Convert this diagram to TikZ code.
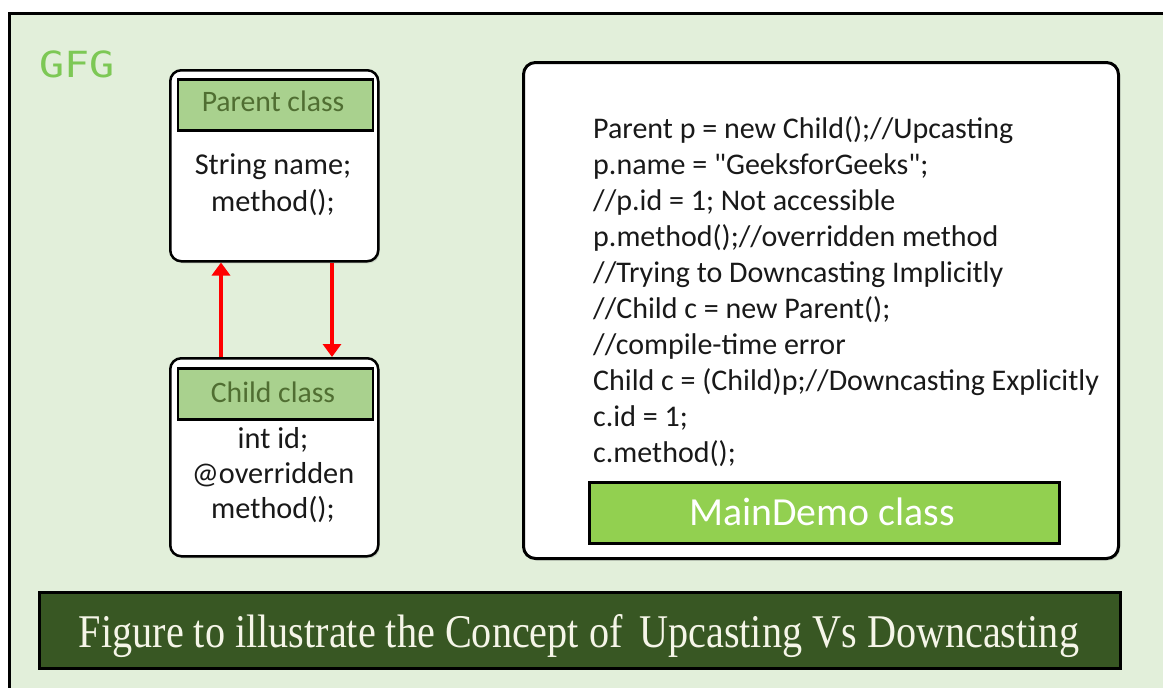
\documentclass[tikz,border=0pt]{standalone}
\usepackage{fontspec}
\setmainfont{Carlito}
\newfontfamily\codefont{Carlito}
\newfontfamily\gfgfont{DejaVu Sans Mono}
\newfontfamily\titlefont{Liberation Serif}
\usetikzlibrary{arrows.meta,shadows}
\definecolor{bgg}{RGB}{226,239,218}
\definecolor{headg}{RGB}{169,209,142}
\definecolor{headtxt}{RGB}{80,110,50}
\definecolor{demog}{RGB}{146,208,80}
\definecolor{barg}{RGB}{56,87,35}
\definecolor{gfgc}{RGB}{125,200,85}
\definecolor{txt}{RGB}{25,25,25}
\definecolor{cream}{RGB}{245,245,232}
\tikzset{
  softshadow/.style={drop shadow={opacity=0.25, shadow xshift=1.5pt, shadow yshift=-2pt}},
  classbox/.style={draw=black, line width=2.5pt, fill=white, rounded corners=11pt,
    minimum width=208pt, anchor=north west, inner sep=0pt, softshadow},
  classhead/.style={draw=black, line width=2.5pt, fill=headg, minimum width=195pt,
    minimum height=51pt, anchor=north west, inner sep=0pt},
  headtext/.style={text=headtxt, font=\fontsize{29.7}{29.7}\selectfont, anchor=base, inner sep=0pt},
  bodytext/.style={text=txt, font=\fontsize{30.3}{30.3}\selectfont, anchor=base, inner sep=0pt},
  codeline/.style={text=txt, font=\codefont\fontsize{30}{30}\selectfont, anchor=base west, inner sep=0pt},
  redarrow/.style={draw=red, line width=4pt, -{Triangle[width=18pt,length=13pt]}},
}
\begin{document}
\begin{tikzpicture}[x=1pt,y=-1pt]
\useasboundingbox (0,0) rectangle (1163,688);
\clip (0,0) rectangle (1163,688);
\fill[white] (0,0) rectangle (1163,688);
% outer frame
\node[draw=black, line width=3pt, fill=bgg, anchor=north west, minimum width=1180pt,
      minimum height=700pt, inner sep=0pt] (frame) at (8,12) {};
\node[text=gfgc, anchor=base west, inner sep=0pt]
  (gfg) at (39,77) {\scalebox{1.16}[1]{\gfgfont\fontsize{36}{36}\selectfont GFG}};
% parent class
\node[classbox, minimum height=191pt] (parent) at (169,69) {};
\node[classhead] (parenthead) at (176.5,78) {};
\node[headtext] (parentlabel) at (273,111) {Parent class};
\node[bodytext] (p1) at (273,174) {String name;};
\node[bodytext] (p2) at (273,211) {method();};
% child class
\node[classbox, minimum height=198pt] (child) at (169,357) {};
\node[classhead] (childhead) at (176.5,367) {};
\node[headtext] (childlabel) at (273,402) {Child class};
\node[bodytext] (c1) at (273,448) {int id;};
\node[bodytext] (c2) at (273,483) {@overridden};
\node[bodytext] (c3) at (273,518) {method();};
% arrows
\draw[redarrow] ([xshift=52pt]child.north west) -- ([xshift=52pt]parent.south west);
\draw[redarrow] ([xshift=163pt]parent.south west) -- ([xshift=163pt]child.north west);
% main demo box
\node[draw=black, line width=3pt, fill=white, rounded corners=12pt, anchor=north west,
      minimum width=595pt, minimum height=496pt, inner sep=0pt, softshadow] (main) at (522,61) {};
\foreach \i/\t in {0/{Parent p = new Child();//Upcasting},
                   1/{p.name = "GeeksforGeeks";},
                   2/{//p.id = 1; Not accessible},
                   3/{p.method();//overridden method},
                   4/{//Trying to Downcasting Implicitly},
                   5/{//Child c = new Parent();},
                   6/{//compile-time error},
                   7/{Child c = (Child)p;//Downcasting Explicitly},
                   8/{c.id = 1;},
                   9/{c.method();}}
  \node[codeline] (code\i) at (593,138+36*\i) {\t};
\node[draw=black, line width=3pt, fill=demog, anchor=north west, minimum width=470pt,
      minimum height=61pt, inner sep=0pt] (maindemo) at (588,481) {};
\node[text=white, font=\fontsize{39.8}{39.8}\selectfont, anchor=base, inner sep=0pt]
  (maindemolabel) at (822,525) {MainDemo class};
% title bar
\node[draw=black, line width=3pt, fill=barg, anchor=north west, minimum width=1081pt,
      minimum height=76pt, inner sep=0pt] (titlebar) at (38,591) {};
\node[text=cream, anchor=base, inner sep=0pt] (titletext) at (579,647)
  {\resizebox{1000pt}{33pt}{\titlefont Figure to illustrate the Concept of\, Upcasting Vs Downcasting}};
\end{tikzpicture}
\end{document}
